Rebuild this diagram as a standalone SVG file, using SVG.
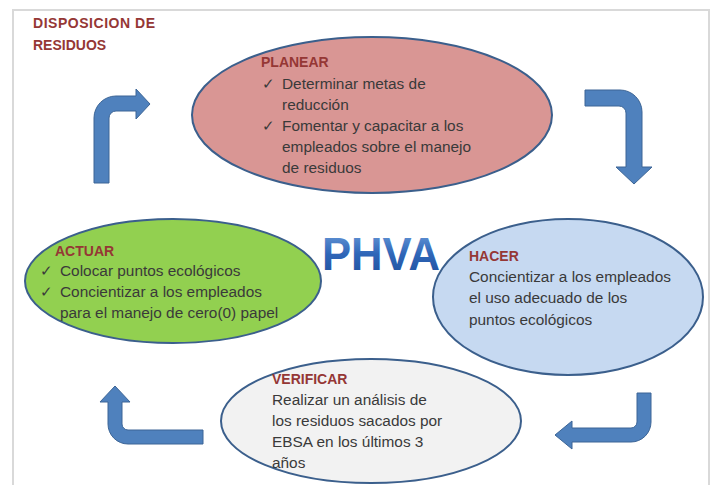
<svg xmlns="http://www.w3.org/2000/svg" width="714" height="485" viewBox="0 0 714 485">
<defs>
<style>
.ell{stroke:#3b5f8c;stroke-width:2}
.arrow{fill:#4f81bd;stroke:#3c6596;stroke-width:1}
.head{font-family:"Liberation Sans",Arial,sans-serif;font-size:14px;font-weight:bold;fill:#953735}
.body{font-family:"Liberation Sans",Arial,sans-serif;font-size:15.4px;fill:#3a3a3a}
.phva{font-family:"Liberation Sans",Arial,sans-serif;font-size:46px;font-weight:bold;fill:url(#phvaGrad)}
</style>
<linearGradient id="phvaGrad" x1="0" y1="0" x2="0" y2="1">
<stop offset="0" stop-color="#6fa0dc"/>
<stop offset="0.5" stop-color="#2f66b8"/>
<stop offset="1" stop-color="#1f4e9a"/>
</linearGradient>
</defs>
<rect x="0" y="0" width="714" height="485" fill="#ffffff"/>
<rect x="13" y="10" width="696" height="500" fill="none" stroke="#d9d9d9" stroke-width="2"/>
<g id="title">
<text class="head" x="33" y="28" textLength="122">DISPOSICION DE</text>
<text class="head" x="33" y="50">RESIDUOS</text>
</g>
<g id="connectors">
<path class="arrow" d="M94,183 L94,118 A22,22 0 0 1 116,96 L136,96 L136,89 L150,104 L136,119 L136,111 L116,111 A7,7 0 0 0 109,118 L109,183 Z"/>
<path class="arrow" d="M585,90 L620,90 A22,22 0 0 1 642,112 L642,167 L652,167 L634,184 L616,167 L626,167 L626,113 A7,7 0 0 0 619,106 L585,106 Z"/>
<path class="arrow" d="M651,393 L651,422 A20,20 0 0 1 631,442 L572,442 L572,449 L555,435 L572,421 L572,428 L631,428 A6,6 0 0 0 637,422 L637,393 Z"/>
<path class="arrow" d="M203,430 L128,430 A6,6 0 0 1 122,424 L122,402 L130,402 L115,386 L100,402 L108,402 L108,424 A20,20 0 0 0 128,444 L203,444 Z"/>
</g>
<g id="planear">
<ellipse class="ell" cx="372" cy="115" rx="180" ry="78" fill="#d99694"/>
<text class="head" x="261" y="67">PLANEAR</text>
<text class="body" x="262" y="89">✓</text>
<text class="body" x="282" y="89">Determinar metas de</text>
<text class="body" x="282" y="110">reducción</text>
<text class="body" x="262" y="131">✓</text>
<text class="body" x="282" y="131">Fomentar y capacitar a los</text>
<text class="body" x="282" y="152">empleados sobre el manejo</text>
<text class="body" x="282" y="173">de residuos</text>
</g>
<g id="phva">
<text class="phva" x="322" y="270" textLength="118" lengthAdjust="spacingAndGlyphs">PHVA</text>
</g>
<g id="actuar">
<ellipse class="ell" cx="173" cy="281" rx="148" ry="62" fill="#92d050"/>
<text class="head" x="55" y="256">ACTUAR</text>
<text class="body" x="40" y="276">✓</text>
<text class="body" x="60" y="276">Colocar puntos ecológicos</text>
<text class="body" x="40" y="297">✓</text>
<text class="body" x="60" y="297">Concientizar a los empleados</text>
<text class="body" x="60" y="318">para el manejo de cero(0) papel</text>
</g>
<g id="hacer">
<ellipse class="ell" cx="568" cy="297" rx="135" ry="78" fill="#c6d9f1"/>
<text class="head" x="469" y="261">HACER</text>
<text class="body" x="469" y="282">Concientizar a los empleados</text>
<text class="body" x="469" y="303">el uso adecuado de los</text>
<text class="body" x="469" y="325">puntos ecológicos</text>
</g>
<g id="verificar">
<ellipse class="ell" cx="371" cy="421" rx="150" ry="62" fill="#f2f2f2"/>
<text class="head" x="272" y="384">VERIFICAR</text>
<text class="body" x="272" y="405">Realizar un análisis de</text>
<text class="body" x="272" y="426">los residuos sacados por</text>
<text class="body" x="272" y="447">EBSA en los últimos 3</text>
<text class="body" x="272" y="468">años</text>
</g>
</svg>
